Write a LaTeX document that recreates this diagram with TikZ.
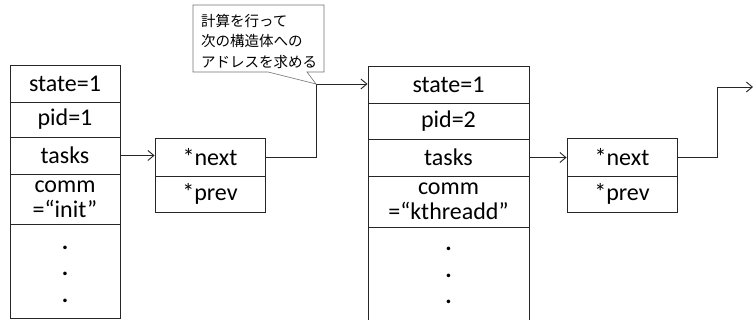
\documentclass[tikz,border=0pt]{standalone}
\usepackage{fontspec}
\setmainfont{Carlito}
\newfontfamily\jpfont{Noto Sans CJK JP}
\usetikzlibrary{arrows.meta}
\begin{document}
\begin{tikzpicture}[x=1pt,y=-1pt,
  cell/.style={draw=black!85,line width=0.9pt,rectangle,inner sep=0pt,
    font=\fontsize{24}{25}\selectfont,align=center},
  dots/.style={inner sep=0pt,align=center,font=\bfseries\fontsize{24}{26.5}\selectfont},
  link/.style={draw=black!85,line width=0.9pt,-{Straight Barb[length=6pt,width=10pt]}},
  callout/.style={draw=black!55,line width=0.6pt,fill=white}]
\useasboundingbox (0,0) rectangle (753,320);
% structure 1
\node[cell,minimum width=110pt,minimum height=37pt] (s1state) at (65,83.5) {state=1};
\node[cell,minimum width=110pt,minimum height=35pt] (s1pid) at (65,119.5) {pid=1};
\node[cell,minimum width=110pt,minimum height=37pt] (s1tasks) at (65,155.5) {tasks};
\node[cell,minimum width=110pt,minimum height=50pt] (s1comm) at (65,199) {comm\\=“init”};
\node[cell,minimum width=110pt,minimum height=94pt] (s1rest) at (65,271) {};
\node[dots] (s1dots) at (65,274) {.\\.\\.};
% list_head 1
\node[cell,minimum width=110pt,minimum height=38pt] (n1) at (210,157) {*next};
\node[cell,minimum width=110pt,minimum height=36pt] (p1) at (210,194) {*prev};
% structure 2
\node[cell,minimum width=161pt,minimum height=37pt] (s2state) at (448.5,84.5) {state=1};
\node[cell,minimum width=161pt,minimum height=36pt] (s2pid) at (448.5,121) {pid=2};
\node[cell,minimum width=161pt,minimum height=37pt] (s2tasks) at (448.5,157.5) {tasks};
\node[cell,minimum width=161pt,minimum height=51pt] (s2comm) at (448.5,201.5) {comm\\=“kthreadd”};
\node[cell,minimum width=161pt,minimum height=100pt] (s2rest) at (448.5,277) {};
\node[dots] (s2dots) at (448.5,275.5) {.\\.\\.};
% list_head 2
\node[cell,minimum width=110pt,minimum height=38pt] (n2) at (622,157) {*next};
\node[cell,minimum width=110pt,minimum height=36pt] (p2) at (622,194) {*prev};
% connectors
\coordinate (c1) at (316,84);
\coordinate (c2) at (717,87);
\coordinate (e2) at (753,87);
\draw[link] (s1tasks.east) -- (s1tasks.east -| n1.west);
\draw[link] (s2tasks.east) -- (s2tasks.east -| n2.west);
\draw[link] (n1.east) -| (c1) -- (c1 -| s2state.west);
\draw[link] (n2.east) -| (c2) -- (e2);
% callout
\draw[callout] (193,5) -- (324,5) -- (324,72) -- (307,72) -- (c1) -- (268,72) -- (193,72) -- cycle;
\node[anchor=west,align=left,inner sep=0pt,font=\jpfont\fontsize{14.5}{20.5}\selectfont] (note) at (201,41) {計算を行って\\次の構造体への\\アドレスを求める};
\end{tikzpicture}
\end{document}
